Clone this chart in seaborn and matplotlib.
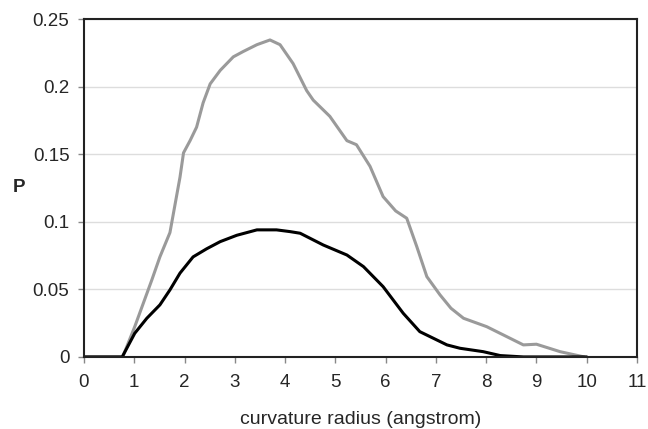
"""
plot.py

Curvature radius distribution P for two sets (grey and black curves).
"""

import numpy as np
import pandas as pd
import seaborn as sns
import matplotlib.pyplot as plt

# Values
radius_grey = [0, 0.5, 0.77, 1.01, 1.18, 1.35, 1.51, 1.71, 1.91, 1.98, 2.11, 2.24,
               2.37, 2.51, 2.71, 2.97, 3.17, 3.44, 3.70, 3.90, 4.16, 4.43, 4.56, 4.89,
               5.23, 5.42, 5.69, 5.95, 6.2, 6.42, 6.62, 6.82, 7.08, 7.3, 7.55, 8.01,
               8.34, 8.74, 9.0, 9.47, 9.95]
p_grey = [0, 0, 0, 0.0224, 0.0397, 0.057, 0.074, 0.092, 0.133, 0.151, 0.160,
          0.170, 0.188, 0.202, 0.212, 0.222, 0.226, 0.231, 0.2345, 0.231, 0.217, 0.197,
          0.190, 0.178, 0.160, 0.157, 0.141, 0.1186, 0.108, 0.1026, 0.0816, 0.0594,
          0.046, 0.036, 0.0286, 0.0224, 0.0163, 0.0089, 0.0094, 0.0039, 0]

radius_black = [0, 0.5, 0.76, 1.01, 1.25, 1.51, 1.71, 1.91, 2.17, 2.44, 2.71, 3.04, 3.44,
                3.83, 4.10, 4.30, 4.76, 5.23, 5.56, 5.95, 6.35, 6.68, 6.95, 7.22, 7.48,
                7.94, 8.28, 8.74, 10.0]
p_black = [0, 0, 0, 0.0175, 0.0286, 0.0385, 0.0496, 0.062, 0.074, 0.080, 0.0853, 0.090,
           0.094, 0.094, 0.0927, 0.0915, 0.0828, 0.0754, 0.0668, 0.052, 0.0323, 0.0187,
           0.0138, 0.0089, 0.0064, 0.0039, 0.001, 0, 0]

df = pd.concat([
    pd.DataFrame({"radius": radius_grey, "P": p_grey, "set": "grey"}),
    pd.DataFrame({"radius": radius_black, "P": p_black, "set": "black"}),
])

sns.set_style("white")
plt.rcParams["font.family"] = ["Liberation Sans", "DejaVu Sans"]

fig = plt.figure(figsize=(6.48, 4.29), dpi=100)
ax = fig.add_axes([0.1296, 0.168, 0.8534, 0.7877])

sns.lineplot(data=df, x="radius", y="P", hue="set", sort=False,
             palette={"grey": "#9a9a9a", "black": "#000000"},
             linewidth=2.2, legend=False, ax=ax,
             solid_joinstyle="round", solid_capstyle="round")

ax.set_xlim(0, 11)
ax.set_ylim(0, 0.25)
ax.set_xticks(range(0, 12))
ax.set_yticks(np.arange(0, 0.26, 0.05))
ax.set_yticklabels(["0", "0.05", "0.1", "0.15", "0.2", "0.25"])
ax.yaxis.grid(True, color="#dddddd", linewidth=1)
ax.set_axisbelow(True)
for s in ax.spines.values():
    s.set_color("#222222")
    s.set_linewidth(1.5)
ax.tick_params(axis="both", direction="out", length=4.5, width=1, color="#888888",
               labelsize=13.5, left=True, bottom=True)
ax.tick_params(axis="x", pad=8)
ax.tick_params(axis="y", pad=6)

ax.set_xlabel("curvature radius (angstrom)", fontsize=14, va="center")
ax.xaxis.set_label_coords(0.5, -0.185)
ax.set_ylabel("P", fontsize=13.5, fontweight="bold", rotation=0, va="center", ha="center")
ax.yaxis.set_label_coords(-0.1175, 0.5)

plt.savefig("out.png", dpi=100)
